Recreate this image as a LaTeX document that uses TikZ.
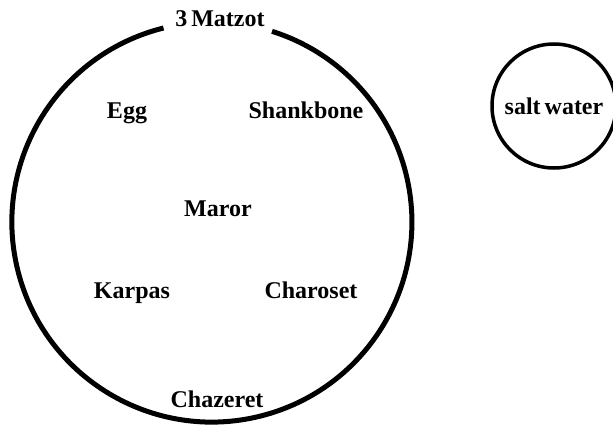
\documentclass[tikz,border=0pt]{standalone}
\usepackage{fontspec}
\setmainfont{Liberation Serif}
\begin{document}
\begin{tikzpicture}[x=1pt,y=-1pt,
  lbl/.style={font=\fontsize{24}{26}\selectfont\bfseries, inner sep=0pt, anchor=base},
  ring/.style={line width=5pt}]
\useasboundingbox (0,0) rectangle (613,431);
\coordinate (c) at (212,222);
\draw[ring] ([shift={(-48.5,-194)}]c) arc[start angle=-104, end angle=-432.5, radius=200];
\node[lbl] (matzot) at (220,27) {3\,Matzot};
\node[lbl] (egg) at (127,118) {Egg};
\node[lbl] (shank) at (306,118) {Shankbone};
\node[lbl] (maror) at (218,216) {Maror};
\node[lbl] (karpas) at (132,298) {Karpas};
\node[lbl] (charoset) at (311,298) {Charoset};
\node[lbl] (chazeret) at (217,407) {Chazeret};
\node[draw, circle, line width=3.5pt, minimum size=124pt, inner sep=0pt,
  font=\fontsize{24}{26}\selectfont\bfseries] (salt) at (554,106) {salt\,water};
\end{tikzpicture}
\end{document}
